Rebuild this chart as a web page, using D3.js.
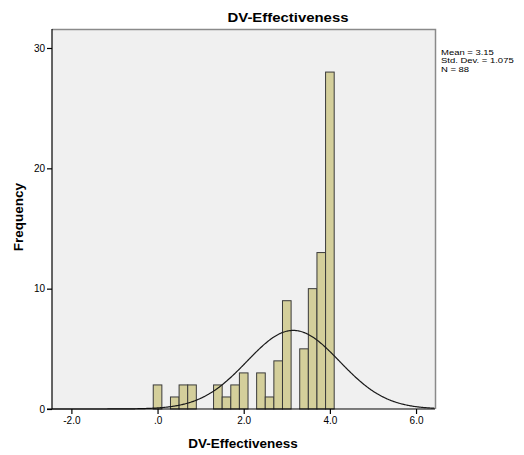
<!DOCTYPE html>
<html>
<head>
<meta charset="utf-8">
<script src="https://cdn.jsdelivr.net/npm/d3@7"></script>
<style>
  html, body { margin: 0; padding: 0; background: #ffffff; }
  svg { display: block; }
  text { font-family: "Liberation Sans", Arial, sans-serif; fill: #000; }
</style>
</head>
<body>
<svg id="chart" width="524" height="455"></svg>
<script>
// ---- data ----
const binCenters = [0.0, 0.2, 0.4, 0.6, 0.8, 1.0, 1.2, 1.4, 1.6, 1.8, 2.0, 2.2, 2.4, 2.6, 2.8, 3.0, 3.2, 3.4, 3.6, 3.8, 4.0];
const frequencies = [2, 0, 1, 2, 2, 0, 0, 2, 1, 2, 3, 0, 3, 1, 4, 9, 0, 5, 10, 13, 28];
const binWidth = [0.2];
const xTickValues = [-2, 0, 2, 4, 6];
const xTickLabels = ["-2.0", ".0", "2.0", "4.0", "6.0"];
const yTickValues = [0, 10, 20, 30];
const statsLabels = ["Mean = 3.15", "Std. Dev. = 1.075", "N = 88"];
const normalParams = [3.15, 1.075, 88]; // mean, sd, n
const titleText = ["DV-Effectiveness"];
const xAxisTitle = ["DV-Effectiveness"];
const yAxisTitle = ["Frequency"];

// ---- layout ----
const svg = d3.select("#chart");
const plot = { left: 52, right: 435, top: 29, bottom: 409 };

const x = d3.scaleLinear().domain([-2.45, 6.44]).range([plot.left, plot.right]);
const y = d3.scaleLinear().domain([0, 30]).range([plot.bottom, 48]);

// background panel
svg.append("rect")
  .attr("x", plot.left).attr("y", plot.top)
  .attr("width", plot.right - plot.left).attr("height", plot.bottom - plot.top)
  .attr("fill", "#f0f0f0").attr("stroke", "none");

// top and right border (grey)
svg.append("path")
  .attr("d", `M${plot.left},${plot.top + 0.5}H${plot.right + 0.5}V${plot.bottom}`)
  .attr("fill", "none").attr("stroke", "#8a8a8a").attr("stroke-width", 1.5);

// bars
const bins = binCenters.map((c, i) => ({ c, f: frequencies[i] })).filter(d => d.f > 0);
svg.append("g").selectAll("rect").data(bins).join("rect")
  .attr("x", d => x(d.c - binWidth[0] / 2))
  .attr("y", d => y(d.f))
  .attr("width", d => x(d.c + binWidth[0] / 2) - x(d.c - binWidth[0] / 2))
  .attr("height", d => y(0) - y(d.f))
  .attr("fill", "#d4cf9b")
  .attr("stroke", "#3a3a3a")
  .attr("stroke-width", 1);

// normal curve
const [mu, sd, n] = normalParams;
const scaleK = n * binWidth[0];
const xs = d3.range(x.domain()[0], x.domain()[1] + 0.001, 0.02);
const pdf = v => scaleK * Math.exp(-0.5 * ((v - mu) / sd) ** 2) / (sd * Math.sqrt(2 * Math.PI));
svg.append("path")
  .datum(xs)
  .attr("d", d3.line().x(v => x(v)).y(v => y(pdf(v))).curve(d3.curveBasis))
  .attr("fill", "none").attr("stroke", "#1a1a1a").attr("stroke-width", 1.2);

// y axis
const yAxis = d3.axisLeft(y).tickValues(yTickValues).tickSize(5).tickPadding(2).tickSizeOuter(0);
const gy = svg.append("g").attr("transform", `translate(${plot.left},0)`).call(yAxis);
gy.select(".domain").remove();
gy.append("line").attr("x1", 0).attr("x2", 0).attr("y1", plot.top).attr("y2", plot.bottom)
  .attr("stroke", "#000").attr("stroke-width", 1.2);
gy.selectAll(".tick line").attr("stroke", "#000").attr("stroke-width", 1.2);
gy.selectAll(".tick text").attr("font-size", 10).attr("fill", "#000")
  .attr("font-family", "'Liberation Sans', Arial, sans-serif");

// x axis
const xAxis = d3.axisBottom(x).tickValues(xTickValues)
  .tickFormat((d, i) => xTickLabels[i]).tickSize(5).tickPadding(3).tickSizeOuter(0);
const gx = svg.append("g").attr("transform", `translate(0,${plot.bottom})`).call(xAxis);
gx.select(".domain").remove();
gx.append("line").attr("x1", plot.left - 5).attr("x2", plot.right).attr("y1", 0).attr("y2", 0)
  .attr("stroke", "#000").attr("stroke-width", 1.2);
gx.selectAll(".tick line").attr("stroke", "#000").attr("stroke-width", 1.2);
gx.selectAll(".tick text").attr("font-size", 10).attr("fill", "#000")
  .attr("font-family", "'Liberation Sans', Arial, sans-serif");

// title
svg.append("text")
  .attr("x", 288).attr("y", 22)
  .attr("text-anchor", "middle")
  .attr("font-size", 13.5).attr("font-weight", "bold")
  .attr("textLength", 121).attr("lengthAdjust", "spacingAndGlyphs")
  .text(titleText[0]);

// x axis title
svg.append("text")
  .attr("x", 243).attr("y", 447.5)
  .attr("text-anchor", "middle")
  .attr("font-size", 13.5).attr("font-weight", "bold")
  .text(xAxisTitle[0]);

// y axis title
svg.append("text")
  .attr("transform", "translate(23,217) rotate(-90)")
  .attr("text-anchor", "middle")
  .attr("font-size", 13.5).attr("font-weight", "bold")
  .text(yAxisTitle[0]);

// stats: compact lines with wide glyphs, as in the reference
svg.append("g").selectAll("text").data(statsLabels).join("text")
  .attr("x", 441)
  .attr("y", (d, i) => 54.5 + i * 8.5)
  .attr("font-size", 7.4)
  .text(d => d)
  .each(function () {
    const w = this.getComputedTextLength();
    d3.select(this).attr("textLength", w * 1.28).attr("lengthAdjust", "spacingAndGlyphs");
  });
</script>
</body>
</html>
